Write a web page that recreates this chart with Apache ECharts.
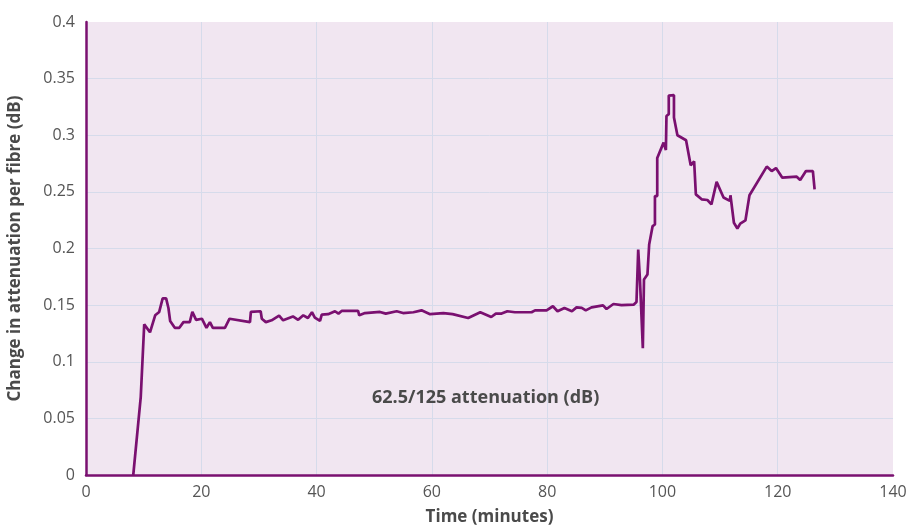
<!DOCTYPE html>
<html>
<head>
<meta charset="utf-8">
<script src="https://cdn.jsdelivr.net/npm/echarts@6/dist/echarts.min.js"></script>
<style>
    html, body { margin: 0; padding: 0; background: #fff; }
    #chart { width: 908px; height: 530px; }
</style>
</head>
<body>
<div id="chart"></div>
<script>
// 时间 (分钟)
const times = [
    8.2, 9.5, 10.1, 11.1, 12.0, 12.7, 13.3, 13.9, 14.3, 14.6, 15.4, 16.2, 16.9, 18.0, 18.45, 19.1,
    20.1, 20.9, 21.5, 22.0, 24.1, 24.9, 28.45, 28.6, 30.3, 30.5, 31.2, 32.2, 33.5, 34.2, 35.9, 36.8,
    37.7, 38.5, 39.2, 39.7, 40.6, 40.9, 42.0, 43.2, 43.8, 44.4, 47.2, 47.4, 48.4, 51.0, 52.0, 53.9,
    55.0, 56.8, 58.2, 59.7, 62.0, 63.6, 66.3, 68.4, 70.3, 71.1, 72.1, 73.1, 74.4, 77.3, 77.9, 79.9,
    81.0, 81.8, 83.0, 84.3, 85.1, 86.0, 86.7, 87.7, 89.7, 90.3, 91.5, 92.9, 95.0, 95.5, 95.8, 96.1,
    96.6, 96.8, 97.4, 97.7, 98.3, 98.7, 98.7, 99.1, 99.1, 100.2, 100.6, 100.7, 101.1, 101.1, 102.0,
    102.0, 102.6, 104.1, 104.9, 105.5, 105.8, 106.8, 107.8, 108.5, 109.4, 110.6, 111.7, 111.8, 112.4,
    113.0, 113.5, 114.4, 115.1, 118.1, 118.95, 119.7, 120.8, 123.3, 123.9, 124.9, 126.1, 126.4
];

// 衰减变化 (dB)
const attenuation = [
    0.0, 0.069, 0.133, 0.126, 0.141, 0.144, 0.156, 0.156, 0.1475, 0.136, 0.130, 0.130, 0.135, 0.135, 0.144, 0.137,
    0.138, 0.130, 0.135, 0.130, 0.130, 0.138, 0.135, 0.144, 0.1446, 0.138, 0.135, 0.1366, 0.1407, 0.1366, 0.140, 0.137,
    0.141, 0.1386, 0.1437, 0.139, 0.136, 0.1416, 0.142, 0.1446, 0.1425, 0.145, 0.145, 0.141, 0.143, 0.144, 0.1425, 0.1446,
    0.143, 0.1437, 0.1454, 0.142, 0.143, 0.142, 0.1386, 0.1437, 0.1395, 0.1425, 0.1425, 0.1446, 0.1437, 0.1437, 0.1454, 0.1454,
    0.149, 0.1446, 0.1475, 0.1446, 0.148, 0.1475, 0.1454, 0.148, 0.1498, 0.1466, 0.151, 0.150, 0.1504, 0.1528, 0.199, 0.1726,
    0.112, 0.1726, 0.177, 0.2035, 0.2198, 0.2212, 0.2463, 0.2463, 0.280, 0.2935, 0.287, 0.317, 0.3186, 0.335, 0.3354,
    0.3156, 0.300, 0.2956, 0.2735, 0.277, 0.2478, 0.2434, 0.2428, 0.239, 0.2588, 0.245, 0.242, 0.247, 0.2227,
    0.2177, 0.222, 0.2248, 0.247, 0.2723, 0.2684, 0.271, 0.2625, 0.2634, 0.2605, 0.2684, 0.2684, 0.2522
];

const xTicks = [0, 20, 40, 60, 80, 100, 120, 140];

const lineColor = '#7a1070';
const textColor = '#4a4a4a';

const chart = echarts.init(document.getElementById('chart'));
chart.setOption({
    animation: false,
    textStyle: { fontFamily: 'Open Sans' },
    title: {
        text: '62.5/125 attenuation (dB)',
        left: 367,
        top: 384,
        textStyle: { fontSize: 18, fontWeight: 'bold', color: textColor, fontFamily: 'Open Sans' }
    },
    grid: {
        left: 86, top: 22, right: 15, bottom: 55,
        outerBoundsMode: 'none',
        containLabel: false,
        show: true,
        backgroundColor: '#f1e6f1',
        borderWidth: 0
    },
    xAxis: {
        type: 'value',
        min: xTicks[0],
        max: xTicks[xTicks.length - 1],
        interval: 20,
        name: 'Time (minutes)',
        nameLocation: 'middle',
        nameGap: 34,
        nameTextStyle: { fontSize: 17, fontWeight: 'bold', color: textColor },
        axisLine: { lineStyle: { color: lineColor, width: 2.5 } },
        axisTick: { show: false },
        axisLabel: { fontSize: 16, color: '#555', margin: 9 },
        splitLine: { show: true, showMaxLine: false, lineStyle: { color: '#d6dbeb', width: 1 } }
    },
    yAxis: {
        type: 'value',
        min: 0,
        max: 0.4,
        interval: 0.05,
        name: 'Change in attenuation per fibre (dB)',
        nameLocation: 'middle',
        nameGap: 62,
        nameTextStyle: { fontSize: 17, fontWeight: 'bold', color: textColor },
        axisLine: { show: true, lineStyle: { color: lineColor, width: 2.5 } },
        axisTick: { show: false },
        axisLabel: { fontSize: 16, color: '#555', margin: 11 },
        splitLine: { show: true, showMaxLine: false, lineStyle: { color: '#d6dbeb', width: 1 } }
    },
    series: [
        {
            name: '62.5/125 attenuation (dB)',
            type: 'line',
            data: times.map((t, i) => [t, attenuation[i]]),
            showSymbol: false,
            lineStyle: { color: lineColor, width: 2.7 }
        }
    ]
});
</script>
</body>
</html>
